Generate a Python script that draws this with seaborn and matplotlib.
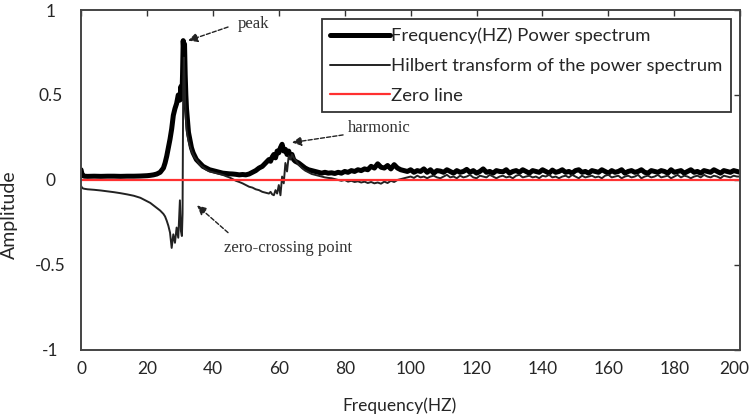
import numpy as np
import pandas as pd
import seaborn as sns
import matplotlib.pyplot as plt
import matplotlib.transforms as mtransforms

# Frequenzraster (Hz): dicht um Peak und Harmonische, danach 1-Hz-Schritte
freq_head = [0, 0.3, 0.6, 1, 2, 4, 6, 8, 10, 12,
             14, 16, 18, 20, 21, 22, 23, 24, 25, 25.5,
             26, 26.5, 27, 27.5, 28, 28.5, 29, 29.5, 30, 30.3,
             30.6, 30.8, 31, 31.2, 31.4, 31.6, 31.8, 32, 32.3, 32.6,
             33, 33.5, 34, 34.5, 35, 36, 37, 38, 39, 40,
             41, 42, 43, 44, 45, 46, 47, 48, 49, 50,
             51, 52, 53, 54, 55, 56, 57, 57.5, 58, 58.5,
             59, 59.5, 60, 60.5, 61, 61.5, 62, 62.5, 63, 63.5,
             64, 64.5, 65]
freq_tail = list(range(66, 201))

power_head = [0.06, 0.035, 0.025, 0.022, 0.021, 0.022, 0.021, 0.022, 0.022, 0.021,
              0.022, 0.022, 0.023, 0.025, 0.027, 0.03, 0.035, 0.045, 0.07, 0.10,
              0.14, 0.19, 0.24, 0.30, 0.38, 0.42, 0.45, 0.50, 0.47, 0.55,
              0.48, 0.62, 0.82, 0.75, 0.80, 0.62, 0.50, 0.42, 0.35, 0.28,
              0.24, 0.19, 0.16, 0.14, 0.12, 0.10, 0.08, 0.07, 0.06, 0.055,
              0.05, 0.045, 0.04, 0.038, 0.036, 0.035, 0.033, 0.03, 0.032, 0.03,
              0.035, 0.045, 0.055, 0.07, 0.08, 0.10, 0.12, 0.11, 0.135, 0.15,
              0.13, 0.17, 0.16, 0.19, 0.21, 0.17, 0.18, 0.15, 0.17, 0.14,
              0.15, 0.12, 0.11]
power_tail = [0.10, 0.085, 0.07, 0.06, 0.055, 0.05, 0.045, 0.04, 0.045, 0.04,
              0.042, 0.038, 0.045, 0.04, 0.05, 0.045, 0.055, 0.05, 0.06, 0.055,
              0.065, 0.06, 0.08, 0.07, 0.095, 0.075, 0.07, 0.085, 0.065, 0.09,
              0.07, 0.06, 0.055, 0.05, 0.06, 0.045, 0.055, 0.05, 0.065, 0.045,
              0.06, 0.04, 0.055, 0.052, 0.045, 0.06, 0.05, 0.04, 0.055, 0.045,
              0.05, 0.062, 0.045, 0.055, 0.04, 0.05, 0.065, 0.045, 0.05, 0.04,
              0.055, 0.05, 0.048, 0.06, 0.04, 0.05, 0.055, 0.045, 0.06, 0.05,
              0.04, 0.055, 0.05, 0.045, 0.06, 0.05, 0.04, 0.058, 0.045, 0.05,
              0.06, 0.045, 0.05, 0.04, 0.055, 0.06, 0.045, 0.05, 0.04, 0.055,
              0.05, 0.045, 0.06, 0.05, 0.04, 0.055, 0.045, 0.05, 0.06, 0.04,
              0.05, 0.055, 0.045, 0.05, 0.06, 0.045, 0.04, 0.055, 0.05, 0.045,
              0.055, 0.05, 0.04, 0.06, 0.045, 0.05, 0.055, 0.04, 0.05, 0.06,
              0.045, 0.05, 0.04, 0.055, 0.05, 0.045, 0.06, 0.05, 0.04, 0.055,
              0.05, 0.045, 0.055, 0.05, 0.045]

hilbert_head = [-0.035, -0.045, -0.05, -0.052, -0.055, -0.058, -0.062, -0.067, -0.072, -0.078,
                -0.085, -0.093, -0.105, -0.125, -0.135, -0.15, -0.165, -0.18, -0.2, -0.215,
                -0.24, -0.27, -0.31, -0.40, -0.32, -0.37, -0.28, -0.34, -0.12, -0.30,
                -0.33, -0.2, 0.55, 0.72, 0.6, 0.45, 0.36, 0.30, 0.26, 0.23,
                0.2, 0.17, 0.15, 0.13, 0.12, 0.09, 0.075, 0.06, 0.05, 0.045,
                0.04, 0.035, 0.03, 0.022, 0.015, 0.005, -0.005, -0.012, -0.02, -0.03,
                -0.04, -0.045, -0.055, -0.06, -0.07, -0.075, -0.08, -0.07, -0.085, -0.09,
                -0.06, -0.08, -0.03, -0.09, 0.02, -0.02, 0.1, 0.05, 0.14, 0.12,
                0.15, 0.13, 0.12]
hilbert_tail = [0.09, 0.07, 0.055, 0.045, 0.035, 0.03, 0.025, 0.02, 0.015, 0.012,
                0.01, 0.005, 0.0, -0.005, 0.0, -0.01, -0.005, -0.012, -0.008, -0.015,
                -0.01, -0.018, -0.012, -0.02, -0.015, -0.022, -0.01, -0.018, -0.005, -0.012,
                0.0, 0.005, 0.01, 0.015, 0.02, 0.012, 0.025, 0.015, 0.02, 0.01,
                0.02, 0.025, 0.015, 0.01, 0.02, 0.03, 0.015, 0.02, 0.01, 0.025,
                0.015, 0.02, 0.03, 0.015, 0.01, 0.025, 0.02, 0.015, 0.03, 0.02,
                0.01, 0.02, 0.025, 0.015, 0.02, 0.01, 0.025, 0.03, 0.015, 0.02,
                0.025, 0.015, 0.02, 0.01, 0.025, 0.02, 0.03, 0.015, 0.02, 0.01,
                0.02, 0.025, 0.015, 0.03, 0.02, 0.01, 0.025, 0.015, 0.02, 0.025,
                0.015, 0.02, 0.01, 0.025, 0.03, 0.015, 0.02, 0.025, 0.01, 0.02,
                0.025, 0.015, 0.02, 0.03, 0.01, 0.02, 0.025, 0.015, 0.02, 0.03,
                0.015, 0.02, 0.025, 0.01, 0.02, 0.03, 0.015, 0.025, 0.02, 0.01,
                0.02, 0.025, 0.015, 0.03, 0.02, 0.015, 0.025, 0.02, 0.01, 0.025,
                0.02, 0.015, 0.025, 0.02, 0.02]

zero_x = [0, 200]
zero_y = [0, 0]

x_ticks = [0, 20, 40, 60, 80, 100, 120, 140, 160, 180, 200]
y_ticks = [-1, -0.5, 0, 0.5, 1]
y_ticklabels = ["-1", "-0.5", "0", "0.5", "1"]

df = pd.DataFrame({
    "freq": freq_head + freq_tail,
    "power": power_head + power_tail,
    "hilbert": hilbert_head + hilbert_tail,
})

sns.set_theme(style="white")
plt.rcParams["font.family"] = ["Lato", "DejaVu Sans"]

fig = plt.figure(figsize=(7.53, 4.18), dpi=100)
ax = fig.add_axes([0.1076, 0.163, 0.8755, 0.813])

sns.lineplot(data=df, x="freq", y="power", ax=ax, color="black", linewidth=3.6,
             estimator=None, sort=False, label="Frequency(HZ) Power spectrum")
sns.lineplot(data=df, x="freq", y="hilbert", ax=ax, color="#222222", linewidth=1.4,
             estimator=None, sort=False, label="Hilbert transform of the power spectrum")
sns.lineplot(x=zero_x, y=zero_y, ax=ax, color="#ff3030", linewidth=1.6,
             label="Zero line")

ax.set_xlim(0, 200)
ax.set_ylim(-1, 1)
ax.set_xticks(x_ticks)
ax.set_yticks(y_ticks)
ax.set_yticklabels(y_ticklabels)
ax.tick_params(axis="both", direction="in", length=4, width=1, color="#333333",
               labelsize=12.5, top=True, right=True)
ax.tick_params(axis="x", pad=8)
ax.tick_params(axis="y", pad=22)
for lbl in ax.get_yticklabels():
    lbl.set_horizontalalignment("center")

# letzte x-Beschriftung etwas nach links, damit sie nicht abgeschnitten wird
last = ax.get_xticklabels()[-1]
last.set_transform(last.get_transform()
                   + mtransforms.ScaledTranslation(-4 / 72, 0, fig.dpi_scale_trans))

for side in ["left", "bottom", "top", "right"]:
    ax.spines[side].set_color("#444444")
    ax.spines[side].set_linewidth(1.4)

ax.set_xlabel("Frequency(HZ)", fontsize=12.5, va="center", ha="center")
ax.set_ylabel("Amplitude", fontsize=14, va="center", ha="center")
ax.xaxis.set_label_coords(0.4826, -0.165)
ax.yaxis.set_label_coords(-0.108, 0.397)

# Beschriftungen mit Pfeilen
serif = ["Liberation Serif", "DejaVu Serif"]
arrow = dict(arrowstyle="-|>", color="#222222", lw=1.0, linestyle=(0, (3, 1.5)),
             mutation_scale=14, shrinkA=0, shrinkB=0)
ax.annotate("", xy=(32.5, 0.82), xytext=(44.6, 0.90), arrowprops=arrow)
ax.text(47.5, 0.92, "peak", fontsize=12, family=serif, color="#333333",
        va="center", ha="left")
ax.annotate("", xy=(64, 0.22), xytext=(79.5, 0.265), arrowprops=arrow)
ax.text(81, 0.305, "harmonic", fontsize=12, family=serif, color="#333333",
        va="center", ha="left")
ax.annotate("", xy=(35.2, -0.15), xytext=(44.6, -0.31), arrowprops=arrow)
ax.text(43.5, -0.40, "zero-crossing point", fontsize=12, family=serif,
        color="#333333", va="center", ha="left")

leg = ax.legend(loc="upper right", fontsize=13.3, frameon=True, fancybox=False,
                borderaxespad=0.5, handlelength=3.2, handletextpad=0.1,
                labelspacing=0.75, borderpad=0.45)
leg.get_frame().set_edgecolor("#333333")
leg.get_frame().set_linewidth(1.3)
leg.get_frame().set_alpha(1)

fig.savefig("out.png", dpi=100)
